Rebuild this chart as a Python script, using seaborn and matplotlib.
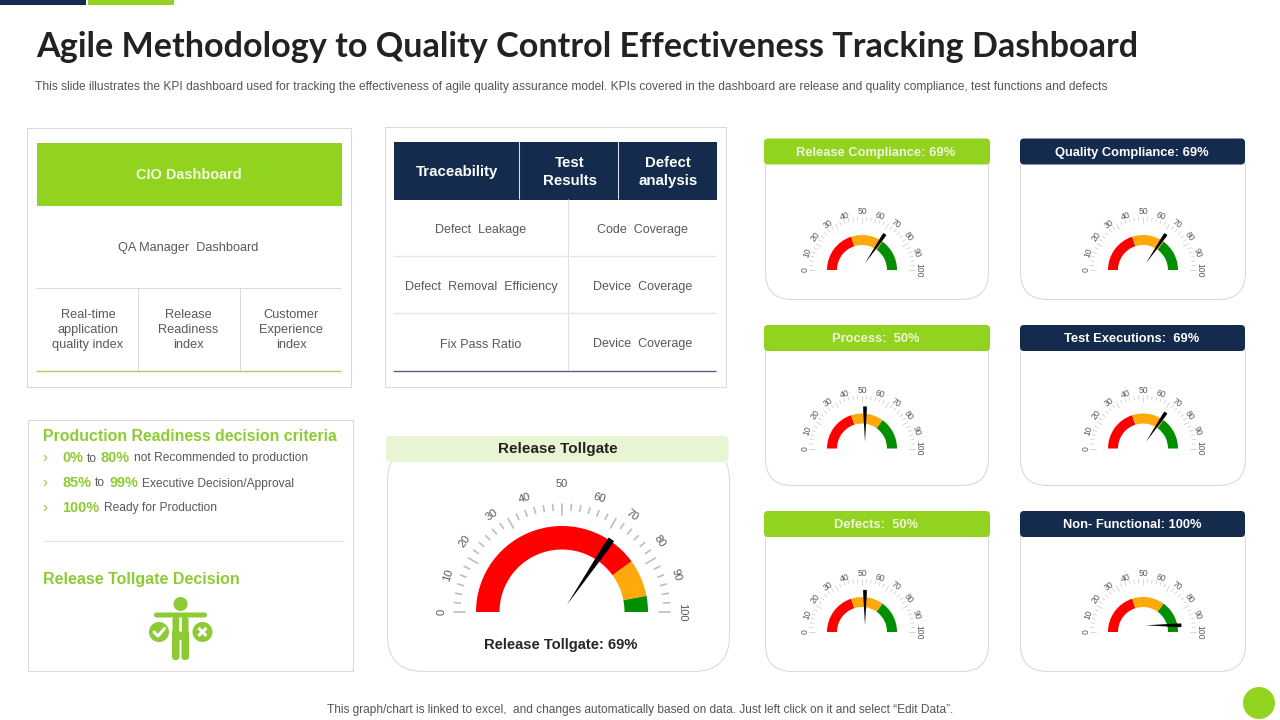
import numpy as np
import pandas as pd
import matplotlib
matplotlib.use("Agg")
import matplotlib.pyplot as plt
from matplotlib.patches import Rectangle, FancyBboxPatch, Circle
import seaborn as sns

# =====================================================
# DATA
# =====================================================

TITLE = "Agile Methodology to Quality Control Effectiveness Tracking Dashboard"
SUBTITLE = (
    "This slide illustrates the KPI dashboard used for tracking the effectiveness of agile quality "
    "assurance model. KPIs covered in the dashboard are release and quality compliance, test functions and defects"
)
FOOTER = "This graph/chart is linked to excel,  and changes automatically based on data. Just left click on it and select \u201cEdit Data\u201d."

gauge_titles = [
    "Release Compliance: 69%", "Quality Compliance: 69%",
    "Process:  50%", "Test Executions:  69%",
    "Defects:  50%", "Non- Functional: 100%",
]
gauge_values = [69, 69, 50, 69, 50, 100]
small_zones = [40, 30, 30]

tollgate_value = 69
tollgate_zones = [80, 14, 6]
tick_labels = [0, 10, 20, 30, 40, 50, 60, 70, 80, 90, 100]

index_cells = ["Real-time\napplication\nquality index", "Release\nReadiness\nindex", "Customer\nExperience\nindex"]
table_heads = ["Traceability", "Test\nResults", "Defect\nanalysis"]
table_left = ["Defect  Leakage", "Defect  Removal  Efficiency", "Fix Pass Ratio"]
table_right = ["Code  Coverage", "Device  Coverage", "Device  Coverage"]

# =====================================================
# STYLE
# =====================================================

sns.set_theme(style="white")
plt.rcParams["font.family"] = ["Liberation Sans", "DejaVu Sans"]

GREEN = "#92D31F"
NAVY = "#142B4D"
TEXT_GREEN = "#8DCB35"
BODY = "#595959"
EDGE = "#D9D9D9"
zone_colors = sns.color_palette(["#FF0000", "#FFA90A", "#008F00"])

W, H = 1280, 720
fig = plt.figure(figsize=(W / 100, H / 100), dpi=100, facecolor="white")

canvas = fig.add_axes([0, 0, 1, 1])
canvas.set_xlim(0, W)
canvas.set_ylim(H, 0)
canvas.axis("off")


def rect(x0, y0, x1, y1, color, edge="none", lw=0):
    canvas.add_patch(Rectangle((x0, y0), x1 - x0, y1 - y0, facecolor=color, edgecolor=edge, linewidth=lw))


def frame(x0, y0, x1, y1):
    rect(x0, y0, x1, y1, "white", EDGE, 0.75)


def rounded(x0, y0, x1, y1, r, color, edge="none", lw=0):
    canvas.add_patch(FancyBboxPatch(
        (x0 + r, y0 + r), x1 - x0 - 2 * r, y1 - y0 - 2 * r,
        boxstyle=f"round,pad={r},rounding_size={r}",
        facecolor=color, edgecolor=edge, linewidth=lw,
    ))


def line(x0, y0, x1, y1, color=EDGE, lw=0.75):
    canvas.plot([x0 - 0.6, x1 - 0.6], [y0 - 0.6, y1 - 0.6], color=color, lw=lw, solid_capstyle="butt")


def label(x, y, s, px, color=BODY, weight="normal", ha="center", **kw):
    canvas.text(x, y + 2, s, fontsize=px * 0.72, color=color, weight=weight, ha=ha, va="center", **kw)


# =====================================================
# GAUGE
# =====================================================

def draw_gauge(cx, cy, value, zones, scale):
    # scale 1 = small gauge, radii are in pixels
    r_out, r_in = (35, 25) if scale == 1 else (86, 62.5)
    tick_out, minor_in, major_in = (53, 49.5, 47) if scale == 1 else (108, 102, 97)
    r_label = 57 if scale == 1 else 120
    pivot = (3, 6.7) if scale == 1 else (5, 7.3)
    length = 35.4 if scale == 1 else 79
    head = 3.6 if scale == 1 else 6.5
    r_max = r_label + 12

    # full polar axes centred on the arc, only the upper half gets marks
    ax = fig.add_axes(
        [(cx - r_max) / W, 1 - (cy + r_max) / H, 2 * r_max / W, 2 * r_max / H],
        projection="polar",
    )
    ax.patch.set_visible(False)
    ax.set_theta_zero_location("W")
    ax.set_theta_direction(-1)

    to_theta = np.pi / 100

    # coloured zones
    start = 0
    for zone, color in zip(zones, zone_colors):
        ax.bar(
            (start + zone / 2) * to_theta, r_out - r_in, width=zone * to_theta,
            bottom=r_in, color=color, linewidth=0,
        )
        start += zone

    # tick marks, 36 steps over the half circle, every 6th is long
    rows = []
    for i, v in enumerate(np.linspace(0, 100, 37)):
        inner = major_in if i % 6 == 0 else minor_in
        rows.append({"tick": i, "theta": v * to_theta, "r": inner})
        rows.append({"tick": i, "theta": v * to_theta, "r": tick_out})
    ticks = pd.DataFrame(rows)
    sns.lineplot(
        data=ticks, x="theta", y="r", units="tick", estimator=None, sort=False,
        color="#C8C8C8" if scale == 1 else "#BEBEBE", linewidth=0.5 if scale == 1 else 1.2, ax=ax,
    )

    for v in tick_labels:
        # the 50 label sits a little further out than the rest
        r_text = r_label + (1 if scale == 1 else 8) if v == 50 else r_label
        ax.text(
            v * to_theta, r_text, str(v), fontsize=6.2 if scale == 1 else 8,
            color=BODY, rotation=90 - 1.8 * v, ha="center", va="center",
            rotation_mode="anchor", clip_on=False,
        )

    # needle, from a pivot a little above the arc centre
    a = np.pi - value * to_theta
    d = np.array([np.cos(a), np.sin(a)])
    n = np.array([-d[1], d[0]])
    p = np.array(pivot)
    shoulder = p + d * length * 0.88
    tip = p + d * length
    pts = np.array([
        p, shoulder + n * head * 0.5, tip + n * head * 0.5,
        tip - n * head * 0.5, shoulder - n * head * 0.5,
    ])
    theta = np.arctan2(pts[:, 1], -pts[:, 0])
    r = np.hypot(pts[:, 0], pts[:, 1])
    ax.fill(theta, r, color="black", linewidth=0, zorder=5, clip_on=False)

    ax.set_rlim(0, r_max)
    ax.axis("off")


# =====================================================
# HEADER AND FOOTER
# =====================================================

rect(0, 0, 86, 5, NAVY)
rect(88, 0, 174, 5, GREEN)
canvas.text(36, 47, TITLE, fontsize=24.6, weight="bold", color="#222222", ha="left", va="center", family="Lato")
label(35, 85, SUBTITLE, 12, ha="left", color="#555555")
label(640, 708, FOOTER, 11.95, color="#555555")
canvas.add_patch(Circle((1259, 703), 16, facecolor=GREEN, edgecolor="none"))

# =====================================================
# CIO PANEL
# =====================================================

frame(27, 128, 351, 387)
rect(37, 143, 342, 205.5, GREEN)
label(188.5, 173, "CIO Dashboard", 14.5, color="#F1F9E0", weight="bold")
label(188.5, 246.5, "QA Manager  Dashboard", 12.8)
line(37, 288.5, 342, 288.5)
line(138.5, 288.5, 138.5, 371)
line(240.5, 288.5, 240.5, 371)
line(37, 371.5, 342, 371.5, "#A9CF5F", 1)
for x, s in zip([88, 188, 291], index_cells):
    label(x, 328, s, 12.8, linespacing=1.35)

# =====================================================
# TABLE PANEL
# =====================================================

frame(385, 127, 726, 386.5)
rect(394, 142, 717, 199.5, NAVY)
line(519.5, 142, 519.5, 199.5, "#DDE3EC")
line(618.5, 142, 618.5, 199.5, "#DDE3EC")
for x, s in zip([457.5, 569.5, 668], table_heads):
    label(x, 170, s, 15, color="white", weight="bold", linespacing=1.3)
line(568.5, 199.5, 568.5, 371, "#DDE1E6")
line(394, 257, 717, 257, "#E6E6E6", 1)
line(394, 314, 717, 314, "#E6E6E6", 1)
line(394, 371.5, 717, 371.5, "#55647E", 1)
for y, a, b in zip([228, 285, 342.5], table_left, table_right):
    label(481, y, a, 12.5)
    label(642.5, y, b, 12.5)

# =====================================================
# CRITERIA PANEL
# =====================================================

frame(28, 420, 352.5, 671)
label(43, 434.5, "Production Readiness decision criteria", 15.9, color=TEXT_GREEN, weight="bold", ha="left")
label(43, 577.5, "Release Tollgate Decision", 16, color=TEXT_GREEN, weight="bold", ha="left")
line(45, 541.5, 345, 541.5, "#E4E4E4", 1)

for y in [458, 483, 508]:
    label(45, y - 2, "\u203A", 15, color=TEXT_GREEN, ha="center")

# (x, text, bold) runs for each criteria line
criteria_rows = [
    (458, [(62.5, "0%", True), (87, "to", False), (100.5, "80%", True), (134.5, "not Recommended to production", False)]),
    (483, [(62.5, "85%", True), (95, "to", False), (109, "99%", True), (142.5, "Executive Decision/Approval", False)]),
    (508, [(62.5, "100%", True), (103.5, "Ready for Production", False)]),
]
for y, runs in criteria_rows:
    for x, s, bold in runs:
        if bold:
            label(x, y - 2, s, 14.5, color=TEXT_GREEN, weight="bold", ha="left")
        else:
            label(x, y - 1.5, s, 12, ha="left")

# decision icon
canvas.add_patch(Circle((180.5, 604), 7, facecolor=TEXT_GREEN, edgecolor="none"))
rounded(154, 612.5, 207, 617.5, 2.5, TEXT_GREEN)
rounded(172.5, 617, 188.5, 640, 2, TEXT_GREEN)
rounded(172, 630, 179.5, 660, 3, TEXT_GREEN)
rounded(181.5, 630, 189, 660, 3, TEXT_GREEN)
line(181, 618, 181, 632, "white", 2)
for cx in [159, 202.5]:
    canvas.add_patch(Circle((cx, 632), 10, facecolor=TEXT_GREEN, edgecolor="none"))
canvas.plot([154, 158, 164.5], [632, 636, 628.5], color="white", lw=2.2)
line(199, 628.5, 207, 636.5, "white", 2.2)
line(199, 636.5, 207, 628.5, "white", 2.2)

# =====================================================
# RELEASE TOLLGATE CARD
# =====================================================

rounded(387.5, 445, 729.5, 671.5, 36, "white", EDGE, 0.75)
rounded(386, 436, 728.5, 462, 5, "#E8F5D3")
label(557.5, 447.5, "Release Tollgate", 15.3, color="#222222", weight="bold")
draw_gauge(562, 612, tollgate_value, tollgate_zones, 2)
label(561, 643, f"Release Tollgate: {tollgate_value}%", 14.8, color="#262626", weight="bold")

# =====================================================
# SMALL GAUGE CARDS
# =====================================================

card_cols = [(765.5, 988.5, 764, 990, 875.5, 862), (1020.5, 1245.5, 1020, 1245, 1132, 1143)]
card_rows = [(138.5, 299.5, 270), (325, 485.5, 448.5), (511, 671.5, 632)]

for i, (name, value) in enumerate(zip(gauge_titles, gauge_values)):
    x0, x1, hx0, hx1, tx, cx = card_cols[i % 2]
    top, bottom, cy = card_rows[i // 2]
    fill = GREEN if i % 2 == 0 else NAVY
    ink = "#EEF8D8" if i % 2 == 0 else "white"
    rounded(x0, top + 4, x1, bottom, 27, "white", EDGE, 0.75)
    rounded(hx0, top, hx1, top + 26, 4, fill)
    label(tx, top + 12.5, name, 12.9, color=ink, weight="bold")
    draw_gauge(cx, cy, value, small_zones, 1)

fig.savefig("out.png", dpi=100)
